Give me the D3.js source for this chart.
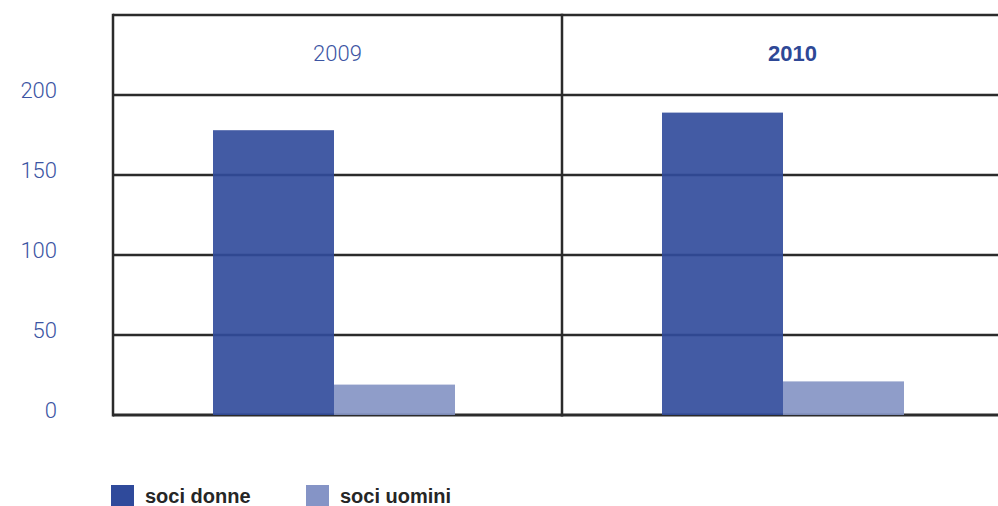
<!DOCTYPE html>
<html>
<head>
<meta charset="utf-8">
<script src="https://cdn.jsdelivr.net/npm/d3@7"></script>
<style>
  html, body { margin: 0; padding: 0; background: #fff; }
  svg { display: block; }
</style>
</head>
<body>
<div id="chart"></div>
<script>
const years = ["2009", "2010"];
const seriesNames = ["soci donne", "soci uomini"];
const sociDonne = [178, 189];
const sociUomini = [19, 21];
const yTicks = [0, 50, 100, 150, 200];

(function () {
const W = 998, H = 506;
const plotLeft = 113, plotBottom = 415, plotTop = 15;
const bandW = 449;

const svg = d3.select("#chart").append("svg").attr("width", W).attr("height", H);

const y = d3.scaleLinear().domain([0, 250]).range([plotBottom, plotTop]);
const x = d3.scaleBand().domain(years).range([plotLeft, plotLeft + 2 * bandW]).padding(0);
const xs = d3.scaleBand().domain(seriesNames).range([100, 342]).padding(0);
const colors = d3.scaleOrdinal().domain(seriesNames).range(["rgb(48,75,155)", "rgb(132,147,196)"]);
const legendColors = d3.scaleOrdinal().domain(seriesNames).range(["#2f4a9b", "#8594c6"]);

const gridColor = "#2b2b2b";

// horizontal gridlines (incl. top border)
svg.append("g").selectAll("line")
  .data(yTicks.concat([250]))
  .join("line")
  .attr("x1", plotLeft).attr("x2", W + 20)
  .attr("y1", d => y(d)).attr("y2", d => y(d))
  .attr("stroke", gridColor)
  .attr("stroke-width", d => d === 0 ? 3 : 2.5);

// vertical lines: left axis and divider
svg.append("g").selectAll("line")
  .data(years)
  .join("line")
  .attr("x1", d => x(d)).attr("x2", d => x(d))
  .attr("y1", y(250) - 1.25).attr("y2", y(0) + 1.5)
  .attr("stroke", gridColor)
  .attr("stroke-width", 2.5);

// bars
const data = [];
years.forEach((yr, i) => {
  data.push({ year: yr, s: seriesNames[0], v: sociDonne[i] });
  data.push({ year: yr, s: seriesNames[1], v: sociUomini[i] });
});
svg.append("g").selectAll("rect")
  .data(data)
  .join("rect")
  .attr("x", d => x(d.year) + xs(d.s))
  .attr("width", xs.bandwidth())
  .attr("y", d => y(d.v))
  .attr("height", d => y(0) - y(d.v))
  .attr("fill", d => colors(d.s))
  .attr("fill-opacity", 0.91);

// y tick labels
svg.append("g").selectAll("text")
  .data(yTicks)
  .join("text")
  .attr("x", 57)
  .attr("y", d => y(d) + 3)
  .attr("text-anchor", "end")
  .attr("font-family", "Roboto, 'Liberation Sans', sans-serif")
  .attr("font-weight", 300)
  .attr("font-size", 22)
  .attr("fill", "#3c55a3")
  .text(d => d);

// year headers
svg.append("g").selectAll("text")
  .data(years)
  .join("text")
  .attr("x", (d, i) => x(d) + bandW / 2 + (i === 1 ? 6 : 0))
  .attr("y", 61)
  .attr("text-anchor", "middle")
  .attr("font-family", (d, i) => i === 1 ? "'Liberation Sans', Arial, sans-serif" : "Roboto, 'Liberation Sans', sans-serif")
  .attr("font-weight", (d, i) => i === 1 ? 700 : 300)
  .attr("font-size", 22)
  .attr("fill", (d, i) => i === 1 ? "#2e4896" : "#3c55a3")
  .text(d => d);

// legend
const lg = svg.append("g").selectAll("g")
  .data(seriesNames)
  .join("g")
  .attr("transform", (d, i) => `translate(${i === 0 ? 111 : 306},485)`);
lg.append("rect")
  .attr("width", 23).attr("height", 22)
  .attr("fill", d => legendColors(d));
lg.append("text")
  .attr("x", 34).attr("y", 18)
  .attr("font-family", "'Liberation Sans', Arial, sans-serif")
  .attr("font-weight", 700)
  .attr("font-size", 20)
  .attr("fill", "#262626")
  .text(d => d);
})();
</script>
</body>
</html>
